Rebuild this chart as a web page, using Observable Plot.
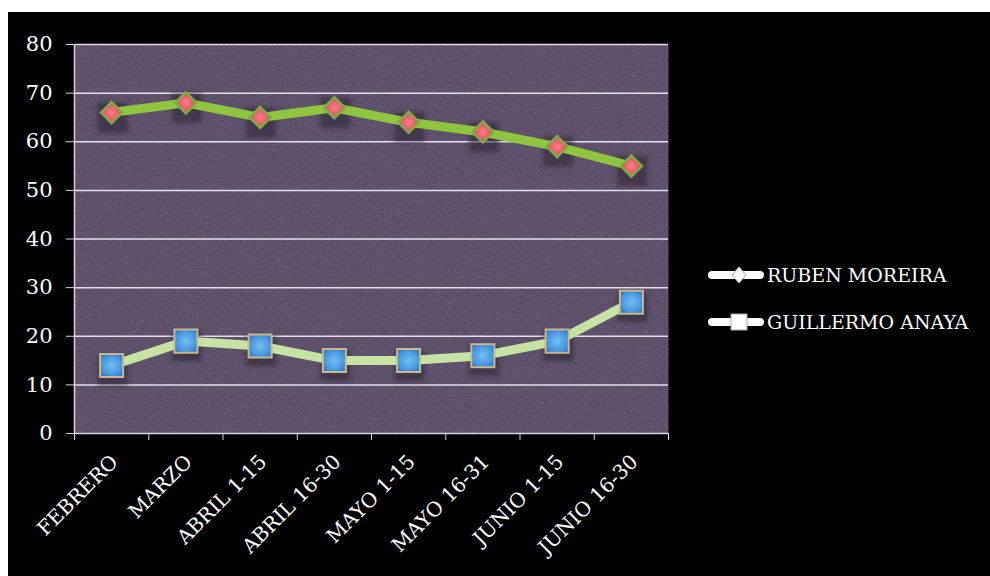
<!DOCTYPE html>
<html>
<head>
<meta charset="utf-8">
<script src="https://cdn.jsdelivr.net/npm/d3@7"></script>
<script src="https://cdn.jsdelivr.net/npm/@observablehq/plot@0.6"></script>
<style>
  html, body { margin: 0; padding: 0; background: #fff; width: 990px; height: 576px; overflow: hidden; }
  #panel { position: absolute; left: 8px; top: 12px; width: 982px; height: 564px; background: #000; }
  #panel svg { display: block; }
  .legend-row { position: absolute; left: 706px; height: 24px; display: flex; align-items: center;
    font-family: "DejaVu Serif", serif; font-size: 19px; color: #fff; white-space: nowrap; }
  .legend-row svg { display: block; margin-right: 3px; }
</style>
</head>
<body>
<div id="panel"></div>
<div class="legend-row" style="top:263px">
  <svg width="58" height="24"><line x1="6" y1="12" x2="54" y2="12" stroke="#fff" stroke-width="8" stroke-linecap="round"/>
    <path d="M33 4 L40 12 L33 20 L26 12 Z" fill="#fff" stroke="#aaa" stroke-width="1"/></svg>
  <span id="lab0"></span>
</div>
<div class="legend-row" style="top:310px">
  <svg width="58" height="24"><line x1="6" y1="12" x2="54" y2="12" stroke="#fff" stroke-width="8" stroke-linecap="round"/>
    <rect x="25" y="4" width="16" height="16" fill="#fff" stroke="#aaa" stroke-width="1"/></svg>
  <span id="lab1"></span>
</div>
<script>
// Reporting periods along the x axis
const periods = ["FEBRERO", "MARZO", "ABRIL 1-15", "ABRIL 16-30", "MAYO 1-15", "MAYO 16-31", "JUNIO 1-15", "JUNIO 16-30"];
// Candidate names
const seriesNames = ["RUBEN MOREIRA", "GUILLERMO ANAYA"];
// Percentages per period
const rubenMoreira = [66, 68, 65, 67, 64, 62, 59, 55];
const guillermoAnaya = [14, 19, 18, 15, 15, 16, 19, 27];
// Y axis ticks
const yTicks = [0, 10, 20, 30, 40, 50, 60, 70, 80];

// Each period occupies one unit; points sit at the middle of their slot
const toRows = (values, name) => values.map((v, i) => ({pos: i + 0.5, period: periods[i], value: v, name}));
const rubenRows = toRows(rubenMoreira, seriesNames[0]);
const anayaRows = toRows(guillermoAnaya, seriesNames[1]);
const allRows = rubenRows.concat(anayaRows);

document.getElementById("lab0").textContent = seriesNames[0];
document.getElementById("lab1").textContent = seriesNames[1];

const axisColor = "#d6d2e6";

const chart = Plot.plot({
  width: 982,
  height: 564,
  marginLeft: 66,
  marginTop: 32,
  marginBottom: 143,
  marginRight: 322,
  style: {background: "transparent", color: "#fff", fontFamily: "DejaVu Serif, serif", fontSize: "20px"},
  x: {domain: [0, periods.length]},
  y: {domain: [0, 80]},
  marks: [
    Plot.frame({fill: "#5b4d67", stroke: null, imageFilter: "url(#grain)"}),
    Plot.gridY(yTicks.filter(t => t > 0), {stroke: "#ebe6f4", strokeOpacity: 0.95, strokeWidth: 1.5}),
    Plot.ruleY([0], {stroke: axisColor, strokeWidth: 1.5}),
    Plot.ruleX([0], {stroke: axisColor, strokeWidth: 1.5}),
    Plot.axisY({ticks: yTicks, tickSize: 8, tickPadding: 14, stroke: axisColor, tickFormat: d => String(d), fontSize: 21, label: null}),
    // boundary ticks between periods
    Plot.axisX({ticks: d3.range(periods.length + 1), tickSize: 7, stroke: axisColor, tickFormat: () => "", label: null}),
    // period names, rotated, at slot centres
    Plot.axisX({ticks: rubenRows.map(d => d.pos), tickSize: 0, tickPadding: 25, tickRotate: -45, dx: 3,
      tickFormat: t => periods[Math.floor(t)], fontSize: 20, label: null}),
    // soft drop shadows behind the markers
    Plot.dot(allRows, {x: "pos", y: "value", symbol: "square", r: 17, fill: "#261d2e", fillOpacity: 0.5, dy: 5, dx: 1, imageFilter: "blur(2px)"}),
    Plot.line(rubenRows, {x: "pos", y: "value", stroke: "#8fc53f", strokeWidth: 9, strokeLinejoin: "round"}),
    Plot.line(anayaRows, {x: "pos", y: "value", stroke: "#c6e3a4", strokeWidth: 9, strokeLinejoin: "round"}),
    Plot.dot(rubenRows, {x: "pos", y: "value", symbol: "diamond2", r: 9.5, fill: "url(#gradRed)", stroke: "#79ad45", strokeWidth: 2.5}),
    Plot.dot(anayaRows, {x: "pos", y: "value", symbol: "square", r: 13, fill: "url(#gradBlue)", stroke: "#cbb88c", strokeWidth: 2})
  ]
});

// gradient fills for the markers and a fine grain for the plot area
const ns = "http://www.w3.org/2000/svg";
const defs = document.createElementNS(ns, "defs");
defs.innerHTML = `
  <radialGradient id="gradRed" cx="0.5" cy="0.5" r="0.6">
    <stop offset="0" stop-color="#f9808a"/>
    <stop offset="0.6" stop-color="#ee5566"/>
    <stop offset="1" stop-color="#d8394c"/>
  </radialGradient>
  <radialGradient id="gradBlue" cx="0.5" cy="0.5" r="0.65">
    <stop offset="0" stop-color="#76bdf3"/>
    <stop offset="0.6" stop-color="#4a9be3"/>
    <stop offset="1" stop-color="#2b73c2"/>
  </radialGradient>
  <filter id="grain" x="0" y="0" width="100%" height="100%" color-interpolation-filters="sRGB">
    <feTurbulence type="fractalNoise" baseFrequency="0.75" numOctaves="2" seed="4" result="noise"/>
    <feColorMatrix in="noise" type="matrix"
      values="0 0 0 0 0.8  0 0 0 0 0.8  0 0 0 0 0.85  0.2 0.2 0.2 0 -0.27" result="speck"/>
    <feComposite in="speck" in2="SourceGraphic" operator="in" result="clipped"/>
    <feMerge><feMergeNode in="SourceGraphic"/><feMergeNode in="clipped"/></feMerge>
  </filter>`;
chart.insertBefore(defs, chart.firstChild);

document.getElementById("panel").appendChild(chart);
</script>
</body>
</html>
